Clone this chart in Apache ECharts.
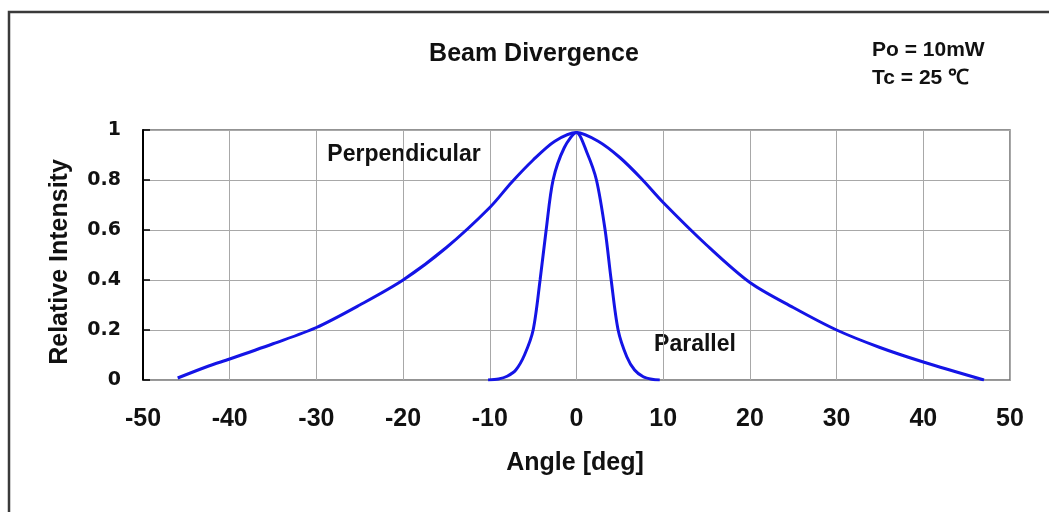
<!DOCTYPE html>
<html>
<head>
<meta charset="utf-8">
<script src="https://cdn.jsdelivr.net/npm/echarts@6/dist/echarts.min.js"></script>
<style>
html,body{margin:0;padding:0;background:#fff;}
#chart{width:1049px;height:512px;}
</style>
</head>
<body>
<div id="chart"></div>
<script>
// ---- data ----
const titleText = 'Beam Divergence';
const condLines = ['Po = 10mW', 'Tc = 25 ℃'];
const xAxisName = 'Angle [deg]';
const yAxisName = 'Relative Intensity';
const seriesNames = ['Perpendicular', 'Parallel'];

const perpAngle = [-46, -42.5, -40, -35, -30, -25, -20, -15, -10, -7.5, -5, -2.5, 0, 2.5, 5, 7.5, 10, 15, 20, 25, 30, 35, 40, 47];
const perpValue = [0.008, 0.055, 0.084, 0.145, 0.21, 0.3, 0.4, 0.53, 0.69, 0.79, 0.88, 0.955, 0.99, 0.955, 0.89, 0.805, 0.71, 0.54, 0.39, 0.29, 0.2, 0.13, 0.072, 0.0];

const paraAngle = [-10.2, -9, -8, -7, -6, -5, -4.2, -3.5, -2.7, -1.4, 0, 1.2, 2.3, 3.3, 4, 4.8, 5.8, 6.7, 7.7, 8.7, 9.6];
const paraValue = [0.0, 0.004, 0.015, 0.04, 0.1, 0.2, 0.4, 0.6, 0.8, 0.93, 0.99, 0.91, 0.8, 0.6, 0.4, 0.2, 0.093, 0.04, 0.013, 0.003, 0.0];

const xMin = -50, xMax = 50, xStep = 10;
const yMin = 0, yMax = 1, yStep = 0.2;

// ---- chart ----
const chart = echarts.init(document.getElementById('chart'), null, {renderer: 'canvas'});
const lineColor = '#1414e6';
const pair = (a, v) => a.map((x, i) => [x, v[i]]);

const option = {
  backgroundColor: '#ffffff',
  animation: false,
  grid: {left: 143, right: 39, top: 130, bottom: 132, show: true, borderColor: '#707070', borderWidth: 1.5},
  xAxis: {
    type: 'value', min: xMin, max: xMax, interval: xStep,
    axisLine: {show: true, onZero: false, lineStyle: {color: '#9a9a9a', width: 1}},
    axisTick: {show: false},
    splitLine: {show: true, lineStyle: {color: '#a8a8a8', width: 1}},
    axisLabel: {
      margin: 27, color: '#111', fontSize: 25, fontWeight: 'bold',
      fontFamily: '"Liberation Sans", Arial, sans-serif'
    }
  },
  yAxis: {
    type: 'value', min: yMin, max: yMax, interval: yStep,
    axisLine: {show: true, onZero: false, lineStyle: {color: '#000', width: 2}},
    axisTick: {show: true, inside: true, length: 7, lineStyle: {color: '#000', width: 1.5}},
    splitLine: {show: true, lineStyle: {color: '#a8a8a8', width: 1}},
    axisLabel: {
      margin: 22, color: '#111', fontSize: 19, fontWeight: 'bold',
      fontFamily: '"DejaVu Sans", sans-serif'
    }
  },
  series: [
    {
      name: seriesNames[0], type: 'line', data: pair(perpAngle, perpValue),
      smooth: 0.3, showSymbol: false, symbol: 'none',
      lineStyle: {color: lineColor, width: 3}
    },
    {
      name: seriesNames[1], type: 'line', data: pair(paraAngle, paraValue),
      smooth: 0.3, showSymbol: false, symbol: 'none',
      lineStyle: {color: lineColor, width: 3}
    }
  ],
  graphic: [
    {type: 'rect', shape: {x: 9, y: 12, width: 1200, height: 700}, style: {fill: 'none', stroke: '#3a3a3a', lineWidth: 2.5}, silent: true},
    {type: 'text', x: 534, y: 54, style: {text: titleText, fill: '#111', font: 'bold 25px "Liberation Sans", Arial, sans-serif', textAlign: 'center', textVerticalAlign: 'middle'}},
    {type: 'text', x: 872, y: 50, style: {text: condLines[0], fill: '#111', font: 'bold 21px "Liberation Sans", Arial, sans-serif', textAlign: 'left', textVerticalAlign: 'middle'}},
    {type: 'text', x: 872, y: 78, style: {text: condLines[1], fill: '#111', font: 'bold 21px "Liberation Sans", Arial, sans-serif', textAlign: 'left', textVerticalAlign: 'middle'}},
    {type: 'text', x: 404, y: 155, style: {text: seriesNames[0], fill: '#111', font: 'bold 23px "Liberation Sans", Arial, sans-serif', textAlign: 'center', textVerticalAlign: 'middle'}},
    {type: 'text', x: 695, y: 345, style: {text: seriesNames[1], fill: '#111', font: 'bold 23px "Liberation Sans", Arial, sans-serif', textAlign: 'center', textVerticalAlign: 'middle'}},
    {type: 'text', x: 575, y: 463, style: {text: xAxisName, fill: '#111', font: 'bold 25px "Liberation Sans", Arial, sans-serif', textAlign: 'center', textVerticalAlign: 'middle'}},
    {type: 'text', x: 60, y: 262, rotation: Math.PI / 2, style: {text: yAxisName, fill: '#111', font: 'bold 25px "Liberation Sans", Arial, sans-serif', textAlign: 'center', textVerticalAlign: 'middle'}}
  ]
};
chart.setOption(option);
</script>
</body>
</html>
